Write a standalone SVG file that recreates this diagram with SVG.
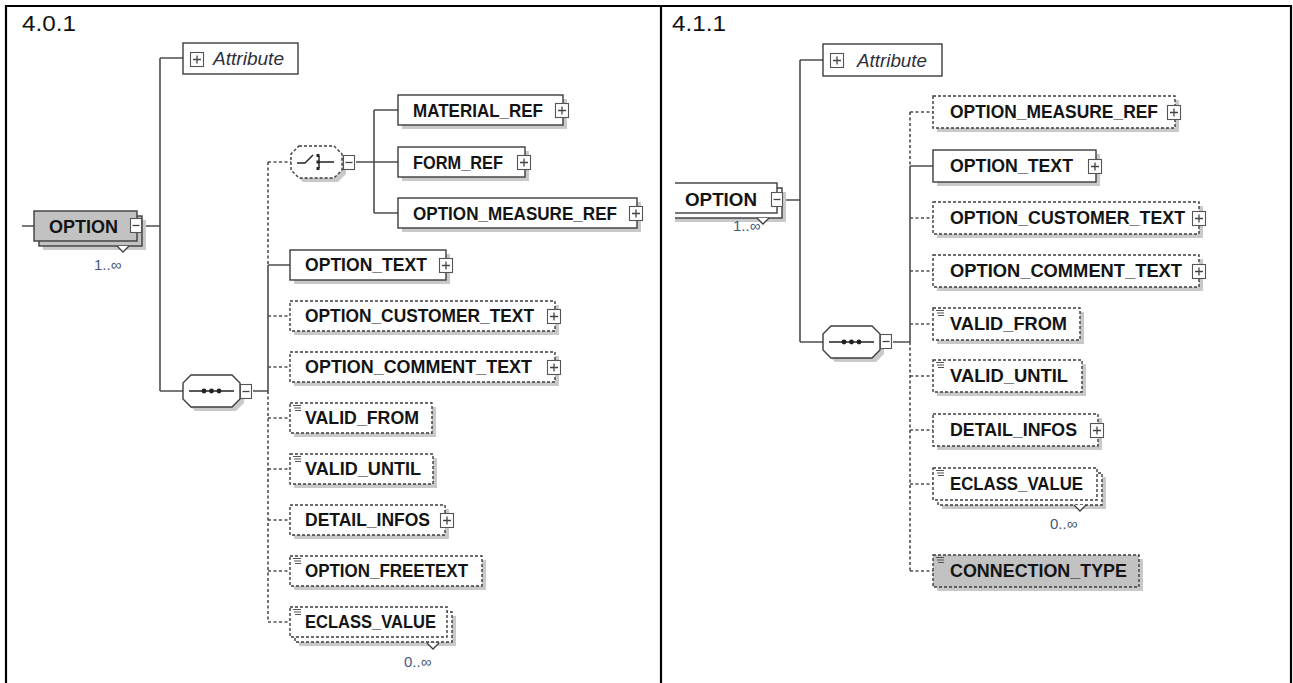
<svg xmlns="http://www.w3.org/2000/svg" width="1293" height="683" viewBox="0 0 1293 683">
<style>
.frame{stroke:#000;stroke-width:2.2;fill:none}
.ttl{font-family:"Liberation Sans",Arial,sans-serif;font-size:22px;fill:#111}
.box{fill:#fff;stroke:#3c3c3c;stroke-width:1.4}
.opt{stroke-dasharray:3 2}
.gray{fill:#c2c2c2}
.sh{fill:#c9c9c9}
.ln{fill:none;stroke:#4d4d4d;stroke-width:1.6}
.dash{stroke-dasharray:3 2.5}
.lbl{font-family:"Liberation Sans",Arial,sans-serif;font-weight:bold;font-size:18px;fill:#141414}
.attr{font-family:"Liberation Sans",Arial,sans-serif;font-style:italic;font-size:18px;fill:#2e3040}
.occ{font-family:"Liberation Sans",Arial,sans-serif;font-size:15px;fill:#45597a}
.ico{fill:#fff;stroke:#555;stroke-width:1.1}
.icl{stroke:#444;stroke-width:1.3}
.dot{fill:#222}
</style>
<defs>
  <g id="plus"><rect class="ico" x="0.5" y="0.5" width="13" height="14"/><path class="icl" d="M3 7.5H11M7 3.5V11.5"/></g>
  <g id="minus"><rect class="ico" x="0.5" y="0.5" width="11" height="14"/><path class="icl" d="M2.5 7.5H9.5"/></g>
  <g id="simple"><path d="M0 0.5H8M1 3H8M2 5.5H8" stroke="#555" stroke-width="1.1"/></g>
  <clipPath id="rightPane"><rect x="675" y="0" width="618" height="683"/></clipPath>
</defs>

<!-- table frame -->
<g id="frame">
  <path class="frame" d="M5 6H1292M6 5V683M661 6V683M1291 5V683"/>
  <text class="ttl" x="22" y="31" textLength="54" lengthAdjust="spacingAndGlyphs">4.0.1</text>
  <text class="ttl" x="672" y="31" textLength="54" lengthAdjust="spacingAndGlyphs">4.1.1</text>
</g>

<!-- connectors -->
<g id="connectors" class="ln">
  <!-- 4.0.1 -->
  <path d="M22 226H34M142 226H160M160 58V391M160 58H183M160 391H183M253 391H268"/>
  <path d="M268 265V391M268 265H290"/>
  <path class="dash" d="M268 162V265M268 391V622M268 162H291"/>
  <path d="M356 162H374M374 110V213M374 110H398M374 162H398M374 213H398"/>
  <path class="dash" d="M268 316H290M268 367H290M268 418H290M268 469H290M268 520H290M268 571H290M268 622H290"/>
  <!-- 4.1.1 -->
  <path d="M783 200H800M800 60V342M800 60H823M800 342H823M893 342H910"/>
  <path d="M910 166V342M910 166H933"/>
  <path class="dash" d="M910 112V166M910 342V571M910 112H933M910 218H933M910 271H933M910 324H933M910 376H933M910 430H933M910 484H933M910 571H933"/>
</g>

<!-- ===== 4.0.1 ===== -->
<g id="l-option">
  <rect class="sh" x="43" y="220" width="103" height="30"/>
  <rect class="box gray" x="39" y="216" width="103" height="30"/>
  <rect class="box gray" x="34" y="211" width="103" height="30"/>
  <polyline points="117,246 123,252 129,246" fill="#fff" stroke="#3c3c3c" stroke-width="1.3"/>
  <use href="#minus" x="130" y="218"/>
  <text class="lbl" x="49" y="233" textLength="69" lengthAdjust="spacingAndGlyphs">OPTION</text>
  <text class="occ" x="94" y="270">1..∞</text>
</g>

<g id="l-attribute">
  <rect class="box" x="183" y="43" width="115" height="31"/>
  <use href="#plus" x="190" y="52"/>
  <text class="attr" x="213" y="65" textLength="71" lengthAdjust="spacingAndGlyphs">Attribute</text>
</g>

<g id="l-sequence">
  <path class="sh" d="M195 379H236L244 387V403L236 411H195L187 403V387Z"/>
  <path class="box" d="M191 375H232L240 383V399L232 407H191L183 399V383Z"/>
  <path d="M189 391H234" stroke="#222" stroke-width="1.5"/>
  <circle class="dot" cx="204" cy="391" r="2.4"/><circle class="dot" cx="211.5" cy="391" r="2.4"/><circle class="dot" cx="219" cy="391" r="2.4"/>
  <use href="#minus" x="240" y="384"/>
</g>

<g id="l-choice">
  <path class="sh" d="M303 150H338L346 158V174L338 182H303L295 174V158Z"/>
  <path class="box opt" d="M299 146H334L342 154V170L334 178H299L291 170V154Z"/>
  <path d="M297 163H305L313 155M319 162H334M319 156V168" fill="none" stroke="#222" stroke-width="1.4"/>
  <rect class="dot" x="316.5" y="154" width="3" height="3"/><rect class="dot" x="316.5" y="160.5" width="3" height="3"/><rect class="dot" x="316.5" y="167" width="3" height="3"/>
  <use href="#minus" x="343" y="155"/>
</g>

<g id="l-material-ref">
  <rect class="sh" x="402" y="99" width="165" height="30"/>
  <rect class="box" x="398" y="95" width="165" height="30"/>
  <use href="#plus" x="555" y="103"/>
  <text class="lbl" x="413" y="117" textLength="130" lengthAdjust="spacingAndGlyphs">MATERIAL_REF</text>
</g>
<g id="l-form-ref">
  <rect class="sh" x="402" y="151" width="127" height="30"/>
  <rect class="box" x="398" y="147" width="127" height="30"/>
  <use href="#plus" x="517" y="155"/>
  <text class="lbl" x="413" y="169" textLength="90" lengthAdjust="spacingAndGlyphs">FORM_REF</text>
</g>
<g id="l-option-measure-ref">
  <rect class="sh" x="402" y="202" width="239" height="30"/>
  <rect class="box" x="398" y="198" width="239" height="30"/>
  <use href="#plus" x="629" y="206"/>
  <text class="lbl" x="413" y="220" textLength="204" lengthAdjust="spacingAndGlyphs">OPTION_MEASURE_REF</text>
</g>

<g id="l-option-text">
  <rect class="sh" x="294" y="254" width="156" height="30"/>
  <rect class="box" x="290" y="250" width="156" height="30"/>
  <use href="#plus" x="439" y="258"/>
  <text class="lbl" x="305" y="271" textLength="122" lengthAdjust="spacingAndGlyphs">OPTION_TEXT</text>
</g>
<g id="l-option-customer-text">
  <rect class="sh" x="294" y="305" width="265" height="30"/>
  <rect class="box opt" x="290" y="301" width="265" height="30"/>
  <use href="#plus" x="547" y="309"/>
  <text class="lbl" x="305" y="322" textLength="229" lengthAdjust="spacingAndGlyphs">OPTION_CUSTOMER_TEXT</text>
</g>
<g id="l-option-comment-text">
  <rect class="sh" x="294" y="356" width="265" height="30"/>
  <rect class="box opt" x="290" y="352" width="265" height="30"/>
  <use href="#plus" x="547" y="360"/>
  <text class="lbl" x="305" y="373" textLength="227" lengthAdjust="spacingAndGlyphs">OPTION_COMMENT_TEXT</text>
</g>
<g id="l-valid-from">
  <rect class="sh" x="294" y="407" width="142" height="30"/>
  <rect class="box opt" x="290" y="403" width="142" height="30"/>
  <use href="#simple" x="293" y="405"/>
  <text class="lbl" x="305" y="424" textLength="114" lengthAdjust="spacingAndGlyphs">VALID_FROM</text>
</g>
<g id="l-valid-until">
  <rect class="sh" x="294" y="458" width="143" height="30"/>
  <rect class="box opt" x="290" y="454" width="143" height="30"/>
  <use href="#simple" x="293" y="456"/>
  <text class="lbl" x="305" y="475" textLength="116" lengthAdjust="spacingAndGlyphs">VALID_UNTIL</text>
</g>
<g id="l-detail-infos">
  <rect class="sh" x="294" y="509" width="155" height="30"/>
  <rect class="box opt" x="290" y="505" width="155" height="30"/>
  <use href="#plus" x="440" y="513"/>
  <text class="lbl" x="305" y="526" textLength="125" lengthAdjust="spacingAndGlyphs">DETAIL_INFOS</text>
</g>
<g id="l-option-freetext">
  <rect class="sh" x="294" y="560" width="192" height="30"/>
  <rect class="box opt" x="290" y="556" width="192" height="30"/>
  <use href="#simple" x="293" y="558"/>
  <text class="lbl" x="305" y="577" textLength="163" lengthAdjust="spacingAndGlyphs">OPTION_FREETEXT</text>
</g>
<g id="l-eclass-value">
  <rect class="sh" x="299" y="616" width="157" height="30"/>
  <rect class="box opt" x="295" y="612" width="157" height="30"/>
  <rect class="box opt" x="290" y="607" width="157" height="30"/>
  <polyline points="427,643 433,649 439,643" fill="#fff" stroke="#3c3c3c" stroke-width="1.3"/>
  <use href="#simple" x="293" y="609"/>
  <text class="lbl" x="305" y="628" textLength="131" lengthAdjust="spacingAndGlyphs">ECLASS_VALUE</text>
  <text class="occ" x="404" y="667">0..∞</text>
</g>

<!-- ===== 4.1.1 ===== -->
<g id="r-option">
  <g clip-path="url(#rightPane)">
    <rect class="sh" x="649" y="192" width="137" height="30"/>
    <rect class="box" x="645" y="188" width="137" height="30"/>
    <rect class="box" x="640" y="183" width="137" height="30"/>
  </g>
  <polyline points="757,218 763,224 769,218" fill="#fff" stroke="#3c3c3c" stroke-width="1.3"/>
  <use href="#minus" x="771" y="192"/>
  <text class="lbl" x="685" y="206" textLength="72" lengthAdjust="spacingAndGlyphs">OPTION</text>
  <text class="occ" x="733" y="231">1..∞</text>
</g>

<g id="r-attribute">
  <rect class="box" x="823" y="44" width="119" height="32"/>
  <use href="#plus" x="830" y="53"/>
  <text class="attr" x="857" y="67" textLength="70" lengthAdjust="spacingAndGlyphs">Attribute</text>
</g>

<g id="r-sequence">
  <path class="sh" d="M835 330H876L884 338V354L876 362H835L827 354V338Z"/>
  <path class="box" d="M831 326H872L880 334V350L872 358H831L823 350V334Z"/>
  <path d="M829 342H874" stroke="#222" stroke-width="1.5"/>
  <circle class="dot" cx="844" cy="342" r="2.4"/><circle class="dot" cx="851.5" cy="342" r="2.4"/><circle class="dot" cx="859" cy="342" r="2.4"/>
  <use href="#minus" x="880" y="334"/>
</g>

<g id="r-option-measure-ref">
  <rect class="sh" x="937" y="100" width="242" height="32"/>
  <rect class="box opt" x="933" y="96" width="242" height="32"/>
  <use href="#plus" x="1167" y="105"/>
  <text class="lbl" x="950" y="118" textLength="208" lengthAdjust="spacingAndGlyphs">OPTION_MEASURE_REF</text>
</g>
<g id="r-option-text">
  <rect class="sh" x="937" y="154" width="163" height="32"/>
  <rect class="box" x="933" y="150" width="163" height="32"/>
  <use href="#plus" x="1088" y="159"/>
  <text class="lbl" x="950" y="172" textLength="123" lengthAdjust="spacingAndGlyphs">OPTION_TEXT</text>
</g>
<g id="r-option-customer-text">
  <rect class="sh" x="937" y="206" width="266" height="32"/>
  <rect class="box opt" x="933" y="202" width="266" height="32"/>
  <use href="#plus" x="1192" y="211"/>
  <text class="lbl" x="950" y="224" textLength="235" lengthAdjust="spacingAndGlyphs">OPTION_CUSTOMER_TEXT</text>
</g>
<g id="r-option-comment-text">
  <rect class="sh" x="937" y="259" width="266" height="32"/>
  <rect class="box opt" x="933" y="255" width="266" height="32"/>
  <use href="#plus" x="1192" y="264"/>
  <text class="lbl" x="950" y="277" textLength="232" lengthAdjust="spacingAndGlyphs">OPTION_COMMENT_TEXT</text>
</g>
<g id="r-valid-from">
  <rect class="sh" x="937" y="312" width="147" height="32"/>
  <rect class="box opt" x="933" y="308" width="147" height="32"/>
  <use href="#simple" x="936" y="310"/>
  <text class="lbl" x="950" y="330" textLength="117" lengthAdjust="spacingAndGlyphs">VALID_FROM</text>
</g>
<g id="r-valid-until">
  <rect class="sh" x="937" y="364" width="149" height="32"/>
  <rect class="box opt" x="933" y="360" width="149" height="32"/>
  <use href="#simple" x="936" y="362"/>
  <text class="lbl" x="950" y="382" textLength="118" lengthAdjust="spacingAndGlyphs">VALID_UNTIL</text>
</g>
<g id="r-detail-infos">
  <rect class="sh" x="937" y="418" width="165" height="32"/>
  <rect class="box opt" x="933" y="414" width="165" height="32"/>
  <use href="#plus" x="1090" y="423"/>
  <text class="lbl" x="950" y="436" textLength="127" lengthAdjust="spacingAndGlyphs">DETAIL_INFOS</text>
</g>
<g id="r-eclass-value">
  <rect class="sh" x="942" y="477" width="164" height="32"/>
  <rect class="box opt" x="938" y="473" width="164" height="32"/>
  <rect class="box opt" x="933" y="468" width="164" height="32"/>
  <polyline points="1074,505 1080,511 1086,505" fill="#fff" stroke="#3c3c3c" stroke-width="1.3"/>
  <use href="#simple" x="936" y="470"/>
  <text class="lbl" x="950" y="490" textLength="133" lengthAdjust="spacingAndGlyphs">ECLASS_VALUE</text>
  <text class="occ" x="1050" y="529">0..∞</text>
</g>
<g id="r-connection-type">
  <rect class="sh" x="937" y="559" width="206" height="32"/>
  <rect class="box opt gray" x="933" y="555" width="206" height="32"/>
  <use href="#simple" x="936" y="557"/>
  <text class="lbl" x="950" y="577" textLength="177" lengthAdjust="spacingAndGlyphs">CONNECTION_TYPE</text>
</g>
</svg>
